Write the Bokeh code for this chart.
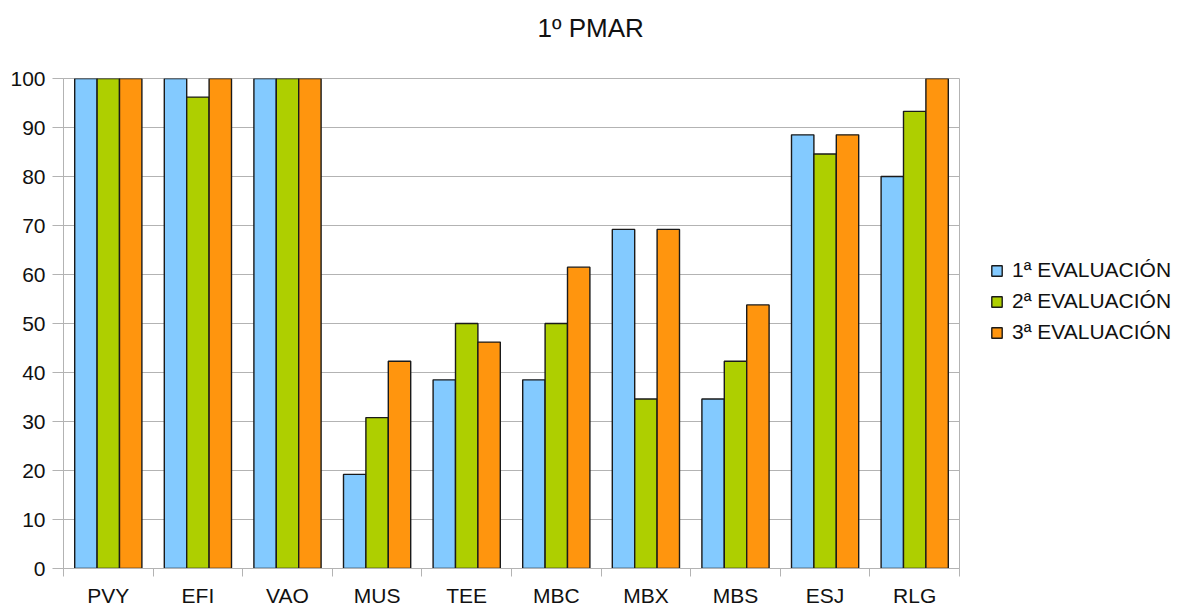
from bokeh.plotting import figure
from bokeh.models import ColumnDataSource, FixedTicker, Legend, LegendItem, Title
from bokeh.embed import file_html
from bokeh.resources import INLINE

chart_title = "1º PMAR"
categories = ["PVY", "EFI", "VAO", "MUS", "TEE", "MBC", "MBX", "MBS", "ESJ", "RLG"]
series_names = ["1ª EVALUACIÓN", "2ª EVALUACIÓN", "3ª EVALUACIÓN"]
eval1 = [100, 100, 100, 19.2, 38.5, 38.5, 69.2, 34.6, 88.5, 80.0]
eval2 = [100, 96.2, 100, 30.8, 50.0, 50.0, 34.6, 42.3, 84.6, 93.3]
eval3 = [100, 100, 100, 42.3, 46.2, 61.5, 69.2, 53.8, 88.5, 100]
y_ticks = [0, 10, 20, 30, 40, 50, 60, 70, 80, 90, 100]

colors = ["#83CAFF", "#AECF00", "#FF950E"]
FONT = "Liberation Sans"
TXT = "#111111"
GRID = "#b3b3b3"

n = len(categories)
p = figure(frame_width=896, frame_height=490, x_range=(0, n), y_range=(0, 100),
           output_backend="svg", toolbar_location=None,
           min_border_left=63, min_border_right=219, min_border_top=78, min_border_bottom=36,
           background_fill_color="white", border_fill_color="white")
p.outline_line_color = GRID
p.outline_line_width = 1
p.title = None

# spacer between frame and title, then the title itself
p.add_layout(Title(text=" ", text_font_size="2px", standoff=32), "above")
p.add_layout(Title(text=chart_title, align="left", offset=474, standoff=0,
                   text_font=FONT, text_font_size="26px", text_font_style="normal",
                   text_color=TXT), "above")

centers = [i + 0.5 for i in range(n)]
offsets = [-0.25, 0.0, 0.25]
renderers = []
for vals, off, col in zip([eval1, eval2, eval3], offsets, colors):
    src = ColumnDataSource(dict(x=[c + off for c in centers], top=vals))
    r = p.vbar(x="x", top="top", width=0.25, bottom=0, source=src,
               fill_color=col, line_color="#1a1a1a", line_width=1.4)
    renderers.append(r)

# x axis
p.xaxis.ticker = FixedTicker(ticks=centers, minor_ticks=list(range(n + 1)))
p.xaxis.major_label_overrides = {c: lab for c, lab in zip(centers, categories)}
p.xaxis.major_tick_out = 0
p.xaxis.major_tick_in = 0
p.xaxis.minor_tick_out = 8
p.xaxis.minor_tick_in = 0
p.xaxis.minor_tick_line_color = GRID
p.xaxis.axis_line_color = GRID
p.xaxis.major_label_standoff = 7
p.xaxis.major_label_text_font = FONT
p.xaxis.major_label_text_font_size = "21px"
p.xaxis.major_label_text_color = TXT
p.xgrid.visible = False

# y axis
p.yaxis.ticker = FixedTicker(ticks=y_ticks, minor_ticks=[])
p.yaxis.major_tick_out = 11
p.yaxis.major_tick_in = 0
p.yaxis.major_tick_line_color = GRID
p.yaxis.axis_line_color = GRID
p.yaxis.major_label_standoff = 7
p.yaxis.major_label_text_font = FONT
p.yaxis.major_label_text_font_size = "21px"
p.yaxis.major_label_text_color = TXT
p.ygrid.ticker = FixedTicker(ticks=y_ticks)
p.ygrid.grid_line_color = GRID

legend = Legend(items=[LegendItem(label=nm, renderers=[r]) for nm, r in zip(series_names, renderers)],
                location=(31, 224))
legend.glyph_width = 13
legend.glyph_height = 13
legend.label_height = 24
legend.spacing = 7
legend.label_standoff = 9
legend.padding = 0
legend.margin = 0
legend.border_line_alpha = 0
legend.background_fill_alpha = 0
legend.label_text_font = FONT
legend.label_text_font_size = "21px"
legend.label_text_color = TXT
p.add_layout(legend, "right")

open("out.html", "w").write(file_html(p, INLINE))
